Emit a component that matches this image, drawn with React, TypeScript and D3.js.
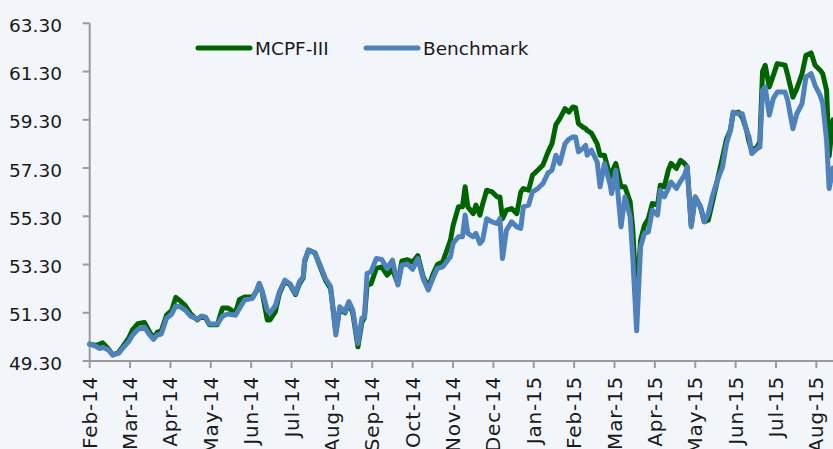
import React from "react";
import * as d3 from "d3";

// sample dates (weekly-ish)
const dates = [
  "2014-02-01", "2014-02-05", "2014-02-08", "2014-02-10", "2014-02-14", "2014-02-17", "2014-02-21", "2014-02-24", "2014-02-28",
  "2014-03-03", "2014-03-07", "2014-03-12", "2014-03-16", "2014-03-19", "2014-03-22", "2014-03-25", "2014-03-29",
  "2014-04-02", "2014-04-05", "2014-04-08", "2014-04-12", "2014-04-16", "2014-04-21", "2014-04-24", "2014-04-27", "2014-04-30",
  "2014-05-06", "2014-05-10", "2014-05-14", "2014-05-20", "2014-05-23", "2014-05-27",
  "2014-06-02", "2014-06-05", "2014-06-07", "2014-06-09", "2014-06-13", "2014-06-15", "2014-06-19", "2014-06-22", "2014-06-26", "2014-06-30",
  "2014-07-04", "2014-07-07", "2014-07-10", "2014-07-11", "2014-07-14", "2014-07-19", "2014-07-23", "2014-07-27", "2014-07-31",
  "2014-08-04", "2014-08-07", "2014-08-11", "2014-08-14", "2014-08-17", "2014-08-21", "2014-08-24", "2014-08-26", "2014-08-28", "2014-08-31",
  "2014-09-04", "2014-09-08", "2014-09-12", "2014-09-16", "2014-09-20", "2014-09-23", "2014-09-27",
  "2014-10-01", "2014-10-05", "2014-10-09", "2014-10-13", "2014-10-17", "2014-10-20", "2014-10-24", "2014-10-30",
  "2014-11-01", "2014-11-05", "2014-11-08", "2014-11-10", "2014-11-12", "2014-11-16", "2014-11-18", "2014-11-21", "2014-11-23", "2014-11-26", "2014-11-30",
  "2014-12-04", "2014-12-06", "2014-12-08", "2014-12-11", "2014-12-15", "2014-12-19", "2014-12-22", "2014-12-24", "2014-12-28", "2014-12-31",
  "2015-01-04", "2015-01-08", "2015-01-12", "2015-01-15", "2015-01-18", "2015-01-21", "2015-01-25", "2015-01-28", "2015-01-31",
  "2015-02-02", "2015-02-04", "2015-02-07", "2015-02-09", "2015-02-10", "2015-02-13", "2015-02-17", "2015-02-19", "2015-02-22", "2015-02-26", "2015-02-27",
  "2015-03-02", "2015-03-06", "2015-03-09", "2015-03-13", "2015-03-15", "2015-03-18", "2015-03-21", "2015-03-24", "2015-03-27", "2015-03-30",
  "2015-04-03", "2015-04-05", "2015-04-08", "2015-04-11", "2015-04-13", "2015-04-17", "2015-04-20", "2015-04-23", "2015-04-25", "2015-04-28",
  "2015-05-01", "2015-05-05", "2015-05-08", "2015-05-11", "2015-05-14", "2015-05-18", "2015-05-22", "2015-05-25", "2015-05-28", "2015-05-30",
  "2015-06-03", "2015-06-06", "2015-06-09", "2015-06-11", "2015-06-13", "2015-06-17", "2015-06-19", "2015-06-21", "2015-06-23", "2015-06-26", "2015-06-29",
  "2015-07-02", "2015-07-08", "2015-07-10", "2015-07-14", "2015-07-17", "2015-07-21", "2015-07-24", "2015-07-28", "2015-07-31",
  "2015-08-04", "2015-08-06", "2015-08-09", "2015-08-11", "2015-08-14",
];

const mcpf = [
  50.0, 49.95, 50.0, 50.05, 49.8, 49.55, 49.65, 49.9, 50.25,
  50.6, 50.85, 50.9, 50.5, 50.25, 50.5, 50.55, 51.2,
  51.4, 51.94, 51.8, 51.6, 51.25, 51.0, 51.15, 51.1, 50.8,
  50.8, 51.5, 51.5, 51.3, 51.85, 51.95,
  51.95, 52.2, 52.5, 52.2, 51.0, 51.0, 51.35, 52.1, 52.6, 52.45,
  52.05, 52.5, 52.75, 53.4, 53.9, 53.78, 53.2, 52.65, 52.3,
  50.5, 51.45, 51.3, 51.7, 51.3, 49.89, 50.9, 51.1, 52.45, 52.5,
  53.14, 53.2, 52.86, 53.1, 52.5, 53.45, 53.5,
  53.4, 53.67, 52.8, 52.35, 52.95, 53.3, 53.4, 54.3,
  54.9, 55.69, 55.69, 56.52, 55.69, 55.41, 55.76, 55.35, 55.8, 56.38, 56.31,
  56.1, 56.1, 55.2, 55.55, 55.62, 55.41, 56.3, 56.45, 56.38, 57.0,
  57.21, 57.42, 57.97, 58.31, 59.1, 59.35, 59.76, 59.62, 59.83,
  59.8, 59.14, 59.0, 58.93, 58.86, 58.75, 58.3, 57.83, 57.83, 56.93, 57.1,
  57.49, 56.52, 56.52, 55.9, 54.8, 51.8, 54.3, 54.93, 55.2, 55.83,
  55.76, 56.59, 56.52, 57.21, 57.49, 57.28, 57.62, 57.49, 57.35, 54.93,
  56.1, 55.7, 55.07, 55.14, 55.83, 56.79, 57.76, 58.5, 58.86, 59.55,
  59.62, 59.4, 58.9, 58.38, 58.04, 58.17, 58.4, 61.3, 61.56, 60.66, 61.14,
  61.63, 61.56, 61.15, 60.24, 60.59, 61.21, 61.97, 62.07, 61.56,
  61.35, 61.21, 60.52, 57.8, 59.3,
];

const bench = [
  50.0, 49.92, 49.82, 49.87, 49.76, 49.55, 49.62, 49.83, 50.1,
  50.38, 50.61, 50.7, 50.38, 50.2, 50.38, 50.42, 51.07,
  51.25, 51.58, 51.55, 51.41, 51.16, 51.03, 51.16, 51.13, 50.83,
  50.83, 51.16, 51.25, 51.2, 51.48, 51.83,
  51.9, 52.21, 52.52, 52.24, 51.41, 51.3, 51.6, 52.17, 52.65, 52.49,
  52.1, 52.58, 52.79, 53.48, 53.9, 53.78, 53.27, 52.72, 52.38,
  50.38, 51.55, 51.34, 51.76, 51.41, 50.03, 51.07, 51.13, 52.93, 53.0,
  53.55, 53.51, 53.14, 53.48, 52.45, 53.27, 53.32,
  53.1, 53.55, 52.72, 52.24, 52.79, 53.14, 53.2, 53.62,
  54.17, 54.45, 54.45, 55.35, 54.59, 54.45, 54.59, 54.17, 54.31, 55.2, 55.07,
  55.0, 55.2, 53.55, 54.72, 55.07, 54.86, 54.8, 55.69, 55.76, 56.31,
  56.45, 56.65, 57.1, 57.21, 57.83, 57.49, 58.31, 58.5, 58.59,
  58.59, 57.97, 58.11, 58.24, 57.83, 58.04, 57.55, 56.52, 57.49, 56.6, 56.24,
  57.21, 54.86, 56.1, 55.28, 53.62, 50.55, 54.03, 54.59, 54.65, 55.55,
  55.35, 56.38, 56.1, 56.45, 56.72, 56.45, 56.75, 57.0, 57.35, 54.86,
  56.1, 55.69, 55.07, 55.41, 56.1, 56.79, 57.35, 58.31, 58.86, 59.62,
  59.55, 59.55, 58.86, 58.59, 57.9, 58.1, 58.17, 60.52, 60.66, 59.49, 60.18,
  60.45, 60.45, 60.1, 58.93, 59.55, 59.97, 61.07, 61.21, 60.73,
  60.31, 59.97, 58.45, 56.45, 57.3,
];

const monthTicks = [
  "2014-02-01", "2014-03-01", "2014-04-01", "2014-05-01", "2014-06-01", "2014-07-01",
  "2014-08-01", "2014-09-01", "2014-10-01", "2014-11-01", "2014-12-01", "2015-01-01",
  "2015-02-01", "2015-03-01", "2015-04-01", "2015-05-01", "2015-06-01", "2015-07-01", "2015-08-01",
];
const tickLabels = [
  "Feb-14", "Mar-14", "Apr-14", "May-14", "Jun-14", "Jul-14", "Aug-14", "Sep-14", "Oct-14",
  "Nov-14", "Dec-14", "Jan-15", "Feb-15", "Mar-15", "Apr-15", "May-15", "Jun-15", "Jul-15", "Aug-15",
];
const endDate = "2015-08-14";
const yTicks = [49.3, 51.3, 53.3, 55.3, 57.3, 59.3, 61.3, 63.3];

const seriesNames = ["MCPF-III", "Benchmark"];
const colors = ["#006400", "#4f81bd"];

const W = 833, H = 449;
const x0 = 89.7, monthW = 40.37;
const yTop = 23.3, yBottom = 361;
const font = "'DejaVu Sans', Verdana, sans-serif";
const axisColor = "#9a9a9a";

export default function App() {
  const parse = d3.timeParse("%Y-%m-%d");
  const tickDates = monthTicks.map((d) => parse(d) as Date);

  // months drawn at equal widths, as in the original
  const x = d3
    .scaleTime()
    .domain([...tickDates, parse(endDate) as Date])
    .range([...tickDates.map((_, i) => x0 + i * monthW), W]);
  const y = d3.scaleLinear().domain([49.3, 63.3]).range([yBottom, yTop]);

  const pts = dates.map((d, i) => ({ date: parse(d) as Date, g: mcpf[i], b: bench[i] }));
  const lineG = d3.line<any>().x((d) => x(d.date)).y((d) => y(d.g));
  const lineB = d3.line<any>().x((d) => x(d.date)).y((d) => y(d.b));

  return (
    <svg
      width={W}
      height={H}
      style={{ position: "absolute", left: 0, top: 0, background: "#f2f6fa", display: "block" }}
    >
      <rect width={W} height={H} fill="#f2f6fa" />

      {/* y axis */}
      <line x1={x0} x2={x0} y1={yTop} y2={yBottom} stroke={axisColor} strokeWidth={2} />
      {yTicks.map((t) => (
        <g key={t}>
          <line x1={x0 - 7} x2={x0} y1={y(t)} y2={y(t)} stroke={axisColor} strokeWidth={2} />
          <text
            x={62}
            y={y(t) + 2}
            textAnchor="end"
            dominantBaseline="central"
            fontFamily={font}
            fontSize={18.5}
            fill="#1a1a1a"
          >
            {t.toFixed(2)}
          </text>
        </g>
      ))}

      {/* x axis */}
      <line x1={x0} x2={W} y1={yBottom} y2={yBottom} stroke={axisColor} strokeWidth={2} />
      {tickDates.map((d, i) => (
        <g key={i}>
          <line x1={x(d)} x2={x(d)} y1={yBottom} y2={yBottom + 7} stroke={axisColor} strokeWidth={2} />
          <text
            transform={`translate(${x(d)},${yBottom + 15}) rotate(-90)`}
            textAnchor="end"
            dominantBaseline="central"
            fontFamily={font}
            fontSize={20}
            letterSpacing={0.8}
            fill="#1a1a1a"
          >
            {tickLabels[i]}
          </text>
        </g>
      ))}

      {/* lines */}
      <path d={lineG(pts) || ""} fill="none" stroke={colors[0]} strokeWidth={5} strokeLinejoin="round" strokeLinecap="round" />
      <path d={lineB(pts) || ""} fill="none" stroke={colors[1]} strokeWidth={5} strokeLinejoin="round" strokeLinecap="round" />

      {/* legend */}
      {seriesNames.map((name, i) => {
        const lx = i === 0 ? 198 : 366;
        return (
          <g key={name}>
            <line x1={lx} x2={lx + 52} y1={48} y2={48} stroke={colors[i]} strokeWidth={5} strokeLinecap="round" />
            <text x={lx + 57} y={48} dominantBaseline="central" fontFamily={font} fontSize={18.5} fill="#1a1a1a">
              {name}
            </text>
          </g>
        );
      })}
    </svg>
  );
}
